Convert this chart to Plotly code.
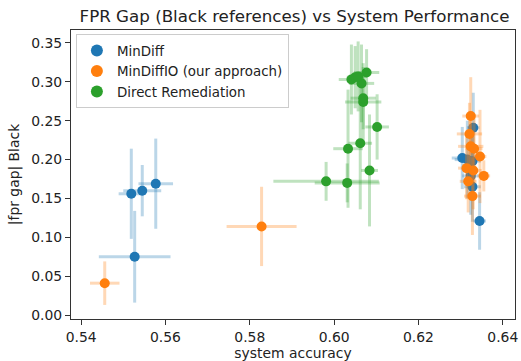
import plotly.graph_objects as go

# MinDiff (blue)
md_acc = [0.5519, 0.5545, 0.5577, 0.5527, 0.6330, 0.6304, 0.6316, 0.6328, 0.6324, 0.6328, 0.6345]
md_gap = [0.156, 0.160, 0.169, 0.075, 0.241, 0.202, 0.200, 0.198, 0.179, 0.165, 0.121]
md_acc_err = [0.003, 0.0045, 0.0041, 0.0085, 0.0015, 0.0025, 0.003, 0.002, 0.002, 0.002, 0.0015]
md_gap_err = [0.058, 0.033, 0.058, 0.059, 0.045, 0.040, 0.050, 0.040, 0.050, 0.045, 0.037]

# MinDiffIO (orange)
io_acc = [0.5456, 0.5828, 0.6324, 0.6321, 0.6324, 0.6332, 0.6346, 0.6314, 0.6330, 0.6355, 0.6318, 0.6328]
io_gap = [0.041, 0.114, 0.256, 0.233, 0.217, 0.214, 0.204, 0.189, 0.186, 0.179, 0.172, 0.153]
io_acc_err = [0.0035, 0.0083, 0.002, 0.003, 0.003, 0.002, 0.0015, 0.002, 0.002, 0.0015, 0.002, 0.002]
io_gap_err = [0.028, 0.051, 0.050, 0.040, 0.040, 0.045, 0.060, 0.040, 0.050, 0.020, 0.040, 0.050]

# Direct Remediation (green)
dr_acc = [0.5981, 0.6031, 0.6033, 0.6062, 0.6084, 0.6102, 0.6069, 0.6069, 0.6041, 0.6050, 0.6077, 0.6065, 0.6057]
dr_gap = [0.172, 0.170, 0.214, 0.221, 0.186, 0.242, 0.274, 0.279, 0.303, 0.306, 0.312, 0.298, 0.307]
dr_acc_err = [0.0125, 0.0077, 0.0035, 0.0028, 0.002, 0.0028, 0.0043, 0.003, 0.003, 0.002, 0.003, 0.003, 0.002]
dr_gap_err = [0.025, 0.025, 0.076, 0.085, 0.072, 0.042, 0.050, 0.040, 0.045, 0.040, 0.030, 0.050, 0.045]

series = [
    ("MinDiff", md_acc, md_gap, md_acc_err, md_gap_err, "#1f77b4", "rgba(31,119,180,0.3)"),
    ("MinDiffIO (our approach)", io_acc, io_gap, io_acc_err, io_gap_err, "#ff7f0e", "rgba(255,127,14,0.3)"),
    ("Direct Remediation", dr_acc, dr_gap, dr_acc_err, dr_gap_err, "#2ca02c", "rgba(44,160,44,0.3)"),
]

FONT = "DejaVu Sans"
fig = go.Figure()
for name, xs, ys, xe, ye, col, ecol in series:
    fig.add_trace(go.Scatter(
        x=xs, y=ys, mode="markers", name=name,
        marker=dict(color=col, size=10, line=dict(width=0)),
        error_x=dict(type="data", array=xe, visible=True, color=ecol, thickness=3, width=0),
        error_y=dict(type="data", array=ye, visible=True, color=ecol, thickness=3, width=0),
    ))

axis_common = dict(
    showgrid=False, zeroline=False, showline=True, mirror=True,
    linecolor="#333333", linewidth=1, ticks="outside", ticklen=5,
    tickcolor="#333333", tickwidth=1,
    tickfont=dict(family=FONT, size=13.9, color="#222222"),
    tickformat=".2f", ticklabeloverflow="allow",
)
fig.update_xaxes(range=[0.5376, 0.6429], tick0=0.54, dtick=0.02,
                 title=dict(text="system accuracy", font=dict(family=FONT, size=13.9, color="#222222"), standoff=4),
                 **axis_common)
fig.update_yaxes(range=[-0.0051, 0.3667], tick0=0, dtick=0.05,
                 title=dict(text="|fpr gap| Black", font=dict(family=FONT, size=13.9, color="#222222"), standoff=8),
                 **axis_common)

fig.update_layout(
    width=521, height=361,
    margin=dict(l=71, r=3, t=30, b=41),
    paper_bgcolor="white", plot_bgcolor="white",
    title=dict(text="FPR Gap (Black references) vs System Performance",
               x=0.5653, xanchor="center", y=0.955, yanchor="middle",
               font=dict(family=FONT, size=16.7, color="#222222")),
    legend=dict(x=0.011, y=0.985, xanchor="left", yanchor="top",
                bgcolor="rgba(255,255,255,0.8)", bordercolor="#cccccc", borderwidth=1,
                font=dict(family=FONT, size=13.4, color="#222222"),
                tracegroupgap=0, itemsizing="constant", itemwidth=30),
    showlegend=True,
)

fig.write_html("out.html")
